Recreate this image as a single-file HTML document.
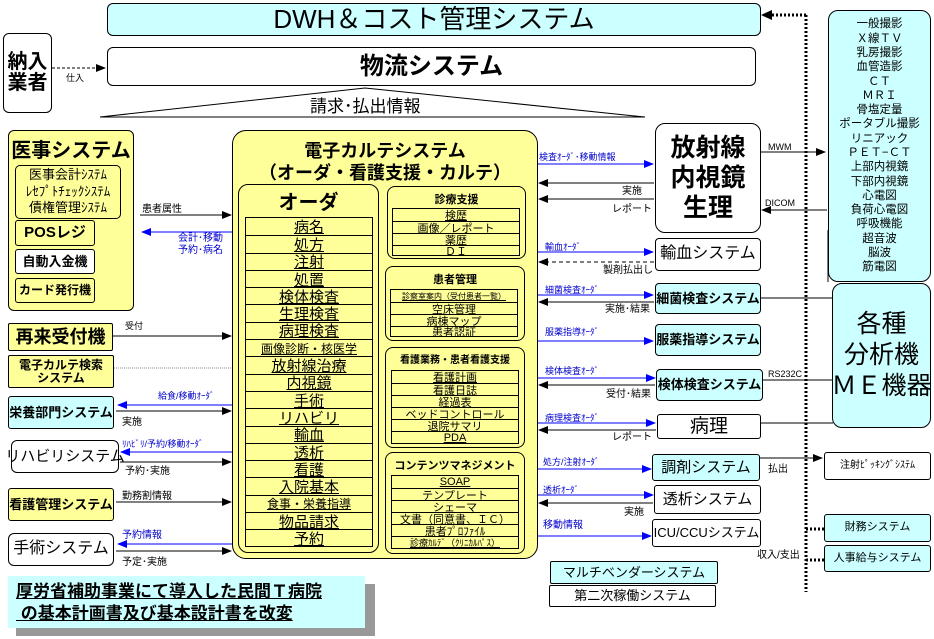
<!DOCTYPE html>
<html><head><meta charset="utf-8"><style>
*{margin:0;padding:0;box-sizing:border-box}
body{width:934px;height:639px;position:relative;background:#fff;font-family:"Liberation Sans","Noto Sans CJK JP",sans-serif;overflow:hidden;color:#000}
.b{position:absolute;border:1px solid #000;border-radius:6px;display:flex;align-items:center;justify-content:center;text-align:center;line-height:1.05;white-space:nowrap}
.y{background:#ffff99}.c{background:#ccffff}.w{background:#fff}
.t{position:absolute;white-space:nowrap;font-size:10px;line-height:1}
.bl{color:#00c}
.rows{position:absolute;border:1px solid #000}
.rows div{border-top:1px solid #000;text-align:center;white-space:nowrap;overflow:hidden;display:flex;align-items:center;justify-content:center;text-decoration:underline}
.rows div:first-child{border-top:none}
svg{position:absolute;left:0;top:0}
</style></head><body>
<div class="b c" style="left:107px;top:3px;width:654px;height:33px;font-size:26px">DWH＆コスト管理システム</div>
<div class="b w" style="left:107px;top:47px;width:649px;height:39px;font-size:24px;font-weight:bold">物流システム</div>
<div class="b w" style="left:3px;top:33px;width:49px;height:80px;font-size:20px;font-weight:bold">納入<br>業者</div>
<div class="t" style="left:66px;top:74px;font-size:9px">仕入</div>
<div class="t" style="left:310px;top:98px;font-size:17px">請求･払出情報</div>

<!-- 医事 -->
<div class="b y" style="left:8px;top:130px;width:126px;height:181px;align-items:flex-start;padding-top:10px;font-size:20px;font-weight:bold">医事システム</div>
<div class="b y" style="left:15px;top:165px;width:106px;height:54px;font-size:13px;line-height:1.3;border-radius:5px">医事会計ｼｽﾃﾑ<br>ﾚｾﾌﾟﾄﾁｪｯｸｼｽﾃﾑ<br>債権管理ｼｽﾃﾑ</div>
<div class="b y" style="left:15px;top:220px;width:80px;height:26px;font-size:15px;font-weight:bold;border-radius:3px">POSレジ</div>
<div class="b w" style="left:15px;top:249px;width:80px;height:25px;font-size:13px;font-weight:bold;border-radius:3px">自動入金機</div>
<div class="b y" style="left:15px;top:278px;width:80px;height:25px;font-size:12px;font-weight:bold;border-radius:3px">カード発行機</div>
<div class="t" style="left:142px;top:205px">患者属性</div>
<div class="t bl" style="left:178px;top:234px">会計･移動</div>
<div class="t bl" style="left:178px;top:246px">予約･病名</div>
<div class="b y" style="left:8px;top:323px;width:105px;height:28px;font-size:18px;font-weight:bold;border-radius:2px">再来受付機</div>
<div class="t" style="left:125px;top:322px;font-size:9px">受付</div>
<div class="b y" style="left:8px;top:355px;width:106px;height:33px;font-size:12px;font-weight:bold;border-radius:2px">電子カルテ検索<br>システム</div>
<div class="b c" style="left:8px;top:396px;width:106px;height:33px;font-size:13px;font-weight:bold;border-radius:3px">栄養部門システム</div>
<div class="t bl" style="left:158px;top:392px;font-size:9px">給食/移動ｵｰﾀﾞ</div>
<div class="t" style="left:122px;top:418px">実施</div>
<div class="b w" style="left:11px;top:440px;width:108px;height:33px;font-size:15px">リハビリシステム</div>
<div class="t bl" style="left:122px;top:440px;font-size:9px">ﾘﾊﾋﾞﾘ/予約/移動ｵｰﾀﾞ</div>
<div class="t" style="left:125px;top:467px">予約･実施</div>
<div class="b y" style="left:8px;top:488px;width:106px;height:33px;font-size:13px;font-weight:bold;border-radius:3px">看護管理システム</div>
<div class="t" style="left:122px;top:492px">勤務割情報</div>
<div class="b w" style="left:8px;top:533px;width:106px;height:33px;font-size:16px">手術システム</div>
<div class="t bl" style="left:122px;top:531px">予約情報</div>
<div class="t" style="left:122px;top:558px">予定･実施</div>
<div style="position:absolute;left:16px;top:584px;width:359px;height:52px;background:#999"></div>
<div style="position:absolute;left:8px;top:576px;width:357px;height:52px;background:#ccffff;font-size:17px;font-weight:bold;text-decoration:underline;line-height:22px;padding:5px 0 0 8px;white-space:nowrap">厚労省補助事業にて導入した民間Ｔ病院<br>&nbsp;の基本計画書及び基本設計書を改変</div>

<!-- 電子カルテ -->
<div class="b y" style="left:232px;top:130px;width:306px;height:429px;border-radius:14px;align-items:flex-start;padding-top:10px;font-size:18px;line-height:1.2;font-weight:bold">電子カルテシステム<br>（オーダ・看護支援・カルテ）</div>
<div class="b y" style="left:238px;top:184px;width:141px;height:369px;border-radius:10px;align-items:flex-start;padding-top:8px;font-size:20px;font-weight:bold">オーダ</div>
<div class="rows" style="left:245px;top:217px;width:128px;height:330px;font-size:15px">
<div style="height:17.3px">病名</div><div style="height:17.3px">処方</div><div style="height:17.3px">注射</div><div style="height:17.3px">処置</div><div style="height:17.3px">検体検査</div><div style="height:17.3px">生理検査</div><div style="height:17.3px">病理検査</div><div style="height:17.3px;font-size:12px">画像診断・核医学</div><div style="height:17.3px">放射線治療</div><div style="height:17.3px">内視鏡</div><div style="height:17.3px">手術</div><div style="height:17.3px">リハビリ</div><div style="height:17.3px">輸血</div><div style="height:17.3px">透析</div><div style="height:17.3px">看護</div><div style="height:17.3px">入院基本</div><div style="height:17.3px;font-size:12px">食事・栄養指導</div><div style="height:17.3px">物品請求</div><div style="height:17.3px">予約</div></div>

<div class="b y" style="left:387px;top:186px;width:139px;height:73px;border-radius:8px;align-items:flex-start;padding-top:8px;font-size:11px;font-weight:bold">診療支援</div>
<div class="rows" style="left:392px;top:208px;width:128px;height:48px;font-size:11px"><div style="height:12px">検歴</div><div style="height:12px">画像／レポート</div><div style="height:12px">薬歴</div><div style="height:11px">ＤＩ</div></div>
<div class="b y" style="left:385px;top:266px;width:140px;height:75px;border-radius:8px;align-items:flex-start;padding-top:8px;font-size:11px;font-weight:bold">患者管理</div>
<div class="rows" style="left:390px;top:289px;width:128px;height:48px;font-size:11px"><div style="height:12px;font-size:8px">診察室案内（受付患者一覧）</div><div style="height:12px">空床管理</div><div style="height:12px">病棟マップ</div><div style="height:11px">患者認証</div></div>
<div class="b y" style="left:385px;top:347px;width:140px;height:101px;border-radius:8px;align-items:flex-start;padding-top:8px;font-size:10px;font-weight:bold">看護業務・患者看護支援</div>
<div class="rows" style="left:391px;top:370px;width:128px;height:74px;font-size:11px"><div style="height:12px">看護計画</div><div style="height:12px">看護日誌</div><div style="height:12px">経過表</div><div style="height:12px">ベッドコントロール</div><div style="height:12px">退院サマリ</div><div style="height:12px">PDA</div></div>
<div class="b y" style="left:385px;top:452px;width:140px;height:102px;border-radius:8px;align-items:flex-start;padding-top:8px;font-size:11px;font-weight:bold">コンテンツマネジメント</div>
<div class="rows" style="left:391px;top:475px;width:128px;height:74px;font-size:11px"><div style="height:12px">SOAP</div><div style="height:12px">テンプレート</div><div style="height:12px">シェーマ</div><div style="height:12px">文書（同意書、ＩＣ）</div><div style="height:12px">患者ﾌﾟﾛﾌｧｲﾙ</div><div style="height:12px;font-size:9px">診療ｶﾙﾃﾞ（ｸﾘﾆｶﾙﾊﾟｽ）</div></div>

<!-- right -->
<div class="b w" style="left:655px;top:123px;width:106px;height:110px;border-radius:10px;font-size:25px;font-weight:bold;line-height:1.2">放射線<br>内視鏡<br>生理</div>
<div class="t bl" style="left:539px;top:153px;font-size:9px">検査ｵｰﾀﾞ･移動情報</div>
<div class="t" style="left:622px;top:187px">実施</div>
<div class="t" style="left:612px;top:205px">レポート</div>
<div class="t" style="left:768px;top:143px;font-size:9px">MWM</div>
<div class="t" style="left:765px;top:199px;font-size:9px">DICOM</div>
<div class="b w" style="left:655px;top:238px;width:106px;height:33px;border-radius:4px;font-size:16px">輸血システム</div>
<div class="t bl" style="left:545px;top:243px;font-size:9px">輸血ｵｰﾀﾞ</div>
<div class="t" style="left:603px;top:266px">製剤払出し</div>
<div class="b c" style="left:655px;top:283px;width:106px;height:31px;border-radius:4px;font-size:13px;font-weight:bold">細菌検査システム</div>
<div class="t bl" style="left:545px;top:286px;font-size:9px">細菌検査ｵｰﾀﾞ</div>
<div class="t" style="left:605px;top:305px">実施･結果</div>
<div class="b c" style="left:655px;top:324px;width:106px;height:32px;border-radius:4px;font-size:13px;font-weight:bold">服薬指導システム</div>
<div class="t bl" style="left:545px;top:328px;font-size:9px">服薬指導ｵｰﾀﾞ</div>
<div class="b c" style="left:656px;top:369px;width:107px;height:32px;border-radius:4px;font-size:13px;font-weight:bold">検体検査システム</div>
<div class="t bl" style="left:545px;top:367px;font-size:9px">検体検査ｵｰﾀﾞ</div>
<div class="t" style="left:606px;top:390px">受付･結果</div>
<div class="t" style="left:768px;top:370px;font-size:9px">RS232C</div>
<div class="b w" style="left:657px;top:414px;width:104px;height:25px;border-radius:3px;font-size:19px">病理</div>
<div class="t bl" style="left:545px;top:414px;font-size:9px">病理検査ｵｰﾀﾞ</div>
<div class="t" style="left:612px;top:433px">レポート</div>
<div class="b c" style="left:652px;top:454px;width:108px;height:27px;border-radius:3px;font-size:15px">調剤システム</div>
<div class="t bl" style="left:543px;top:458px;font-size:9px">処方/注射ｵｰﾀﾞ</div>
<div class="t" style="left:768px;top:465px">払出</div>
<div class="b w" style="left:654px;top:485px;width:107px;height:29px;border-radius:3px;font-size:15px">透析システム</div>
<div class="t bl" style="left:543px;top:486px;font-size:9px">透析ｵｰﾀﾞ</div>
<div class="t" style="left:624px;top:508px">実施</div>
<div class="b w" style="left:652px;top:519px;width:109px;height:28px;border-radius:3px;font-size:13px">ICU/CCUシステム</div>
<div class="t bl" style="left:543px;top:521px">移動情報</div>
<div class="b c" style="left:550px;top:561px;width:168px;height:23px;border-radius:2px;font-size:13px">マルチベンダーシステム</div>
<div class="b w" style="left:549px;top:585px;width:167px;height:22px;border-radius:2px;font-size:13px">第二次稼働システム</div>
<div class="b w" style="left:824px;top:452px;width:107px;height:28px;border-radius:3px;font-size:10px">注射ﾋﾟｯｷﾝｸﾞｼｽﾃﾑ</div>
<div class="b c" style="left:824px;top:514px;width:107px;height:28px;border-radius:3px;font-size:11px">財務システム</div>
<div class="b c" style="left:824px;top:545px;width:107px;height:27px;border-radius:3px;font-size:11px">人事給与システム</div>
<div class="t" style="left:757px;top:551px">収入/支出</div>
<div class="b c" style="left:828px;top:10px;width:103px;height:272px;border-radius:10px;font-size:11.5px;line-height:14.3px">一般撮影<br>Ｘ線ＴＶ<br>乳房撮影<br>血管造影<br>ＣＴ<br>ＭＲＩ<br>骨塩定量<br>ポータブル撮影<br>リニアック<br>ＰＥＴ−ＣＴ<br>上部内視鏡<br>下部内視鏡<br>心電図<br>負荷心電図<br>呼吸機能<br>超音波<br>脳波<br>筋電図</div>
<div class="b c" style="left:832px;top:283px;width:99px;height:145px;border-radius:10px;font-size:25px;line-height:1.25">各種<br>分析機<br>ＭＥ機器</div>

<svg width="934" height="639" viewBox="0 0 934 639">
<defs>
<marker id="a" markerWidth="10" markerHeight="8" refX="9" refY="4" orient="auto" markerUnits="userSpaceOnUse"><path d="M0,0L10,4L0,8z" fill="#000"/></marker>
<marker id="ab" markerWidth="10" markerHeight="8" refX="9" refY="4" orient="auto" markerUnits="userSpaceOnUse"><path d="M0,0L10,4L0,8z" fill="#00f"/></marker>
</defs>
<g stroke="#000" stroke-width="1" fill="none">
<path d="M100,117L365,88L645,117M100,117H645"/>
<path d="M52,68H105" stroke-dasharray="3,2" marker-end="url(#a)"/>
<path d="M140,215H231" marker-end="url(#a)"/>
<path d="M113,336H231" marker-end="url(#a)"/>
<path d="M114,368H231" stroke-dasharray="1,1" stroke="#888"/>
<path d="M116,411H231" marker-end="url(#a)"/>
<path d="M120,462H231" marker-end="url(#a)"/>
<path d="M116,502H231" marker-end="url(#a)"/>
<path d="M116,551H231" marker-end="url(#a)"/>
<path d="M654,183H539" marker-end="url(#a)"/>
<path d="M654,199H539" marker-end="url(#a)"/>
<path d="M760,152H825" marker-end="url(#a)"/>
<path d="M827,210H762" marker-end="url(#a)"/>
<path d="M654,262H539" stroke-dasharray="4,3" marker-end="url(#a)"/>
<path d="M654,302H539" marker-end="url(#a)"/>
<path d="M761,298H833"/>
<path d="M655,385H539" marker-end="url(#a)"/>
<path d="M763,380H833M761,423H833"/>
<path d="M656,430H539" marker-end="url(#a)"/>
<path d="M760,458H822" marker-end="url(#a)"/>
<path d="M653,503H539" marker-end="url(#a)"/>
<path d="M828,230V282"/>
</g>
<g stroke="#00f" stroke-width="1" fill="none">
<path d="M232,232H142" marker-end="url(#ab)"/>
<path d="M232,405H118" marker-end="url(#ab)"/>
<path d="M232,452H121" marker-end="url(#ab)"/>
<path d="M232,544H118" marker-end="url(#ab)"/>
<path d="M538,164H653" marker-end="url(#ab)"/>
<path d="M538,252H653" marker-end="url(#ab)"/>
<path d="M538,295H653" marker-end="url(#ab)"/>
<path d="M538,341H653" marker-end="url(#ab)"/>
<path d="M538,378H655" marker-end="url(#ab)"/>
<path d="M538,423H655" marker-end="url(#ab)"/>
<path d="M538,469H651" marker-end="url(#ab)"/>
<path d="M538,495H653" marker-end="url(#ab)"/>
<path d="M538,536H651" marker-end="url(#ab)"/>
</g>
<g stroke="#000" stroke-width="3" fill="none" stroke-dasharray="2,2">
<path d="M806,15V592"/>
<path d="M806,15H770"/>
<path d="M806,529H824M806,560H824"/>
</g>
<path d="M761,15L772,10L772,20z" fill="#000"/>
</svg>
</body></html>
